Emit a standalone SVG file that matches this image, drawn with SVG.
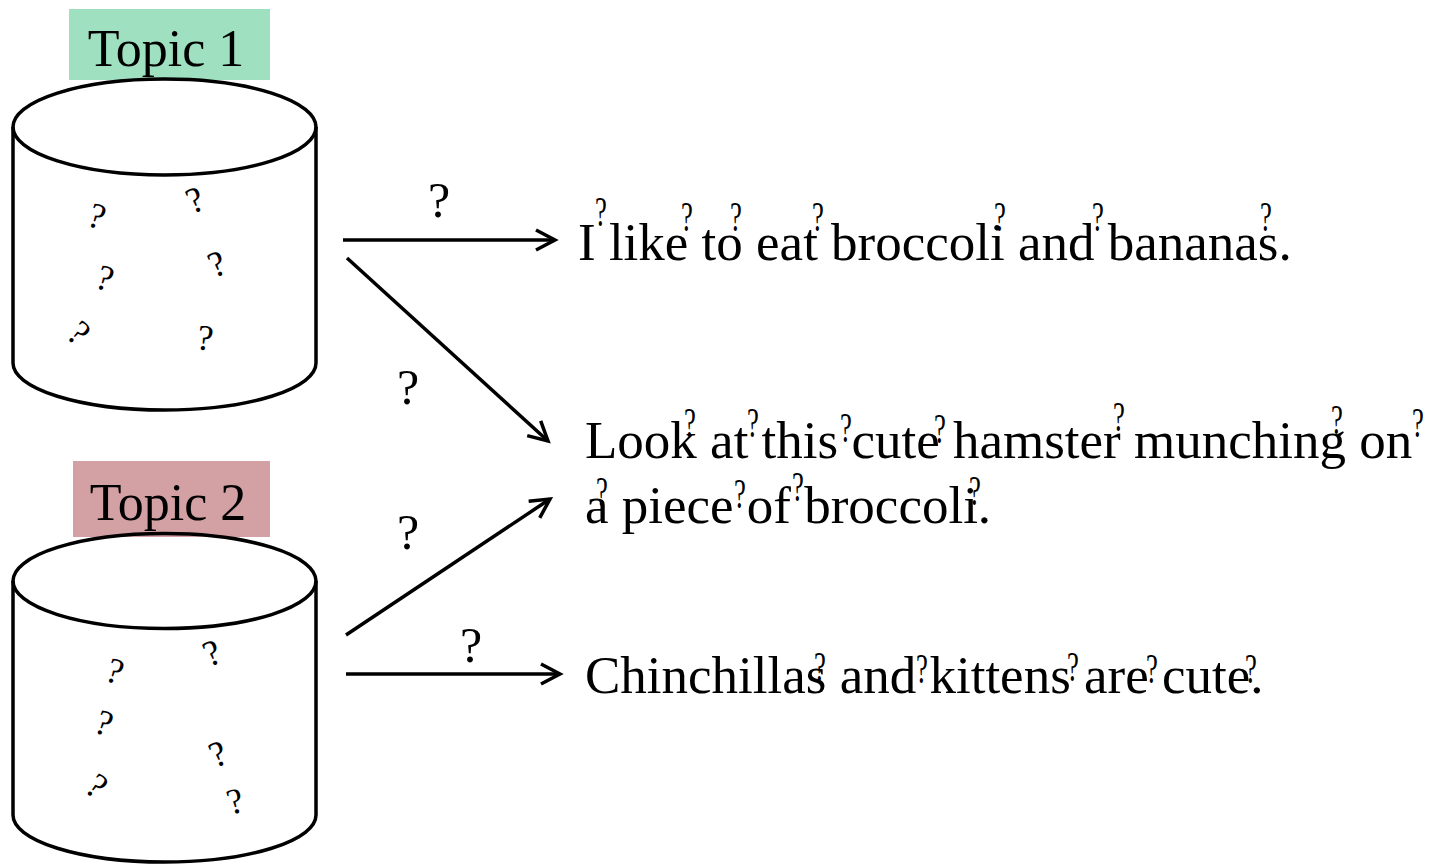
<svg xmlns="http://www.w3.org/2000/svg" width="1429" height="865" viewBox="0 0 1429 865">
  <defs>
    <style>
      .serif { font-family: "Liberation Serif", "Times New Roman", serif; fill: #000; }
      .label { font-size: 52px; text-anchor: middle; }
      .sent { font-size: 53px; }
      .edge-q { font-size: 50px; text-anchor: middle; }
      .word-q { font-size: 43px; text-anchor: middle; }
      .bag-q { font-size: 36px; text-anchor: middle; }
      .outline { fill: none; stroke: #000; stroke-width: 3.5; }
      .conn { fill: none; stroke: #000; stroke-width: 3.5; }
    </style>
    <marker id="chev" markerUnits="userSpaceOnUse" markerWidth="30" markerHeight="30" viewBox="-24 -15 30 30" refX="0" refY="0" orient="auto">
      <path d="M-19,-10 L0,0 L-19,10" fill="none" stroke="#000" stroke-width="3.5" stroke-linejoin="miter"/>
    </marker>
    <!-- small narrow question mark set above a word -->
    <g id="wq"><text class="serif word-q" transform="scale(0.62,1)" x="0" y="0">?</text></g>
  </defs>

  <rect width="1429" height="865" fill="#fff"/>

  <!-- Topic 1 bag -->
  <g id="topic1">
    <rect x="69" y="9" width="201" height="71" fill="#9ee0bf"/>
    <text class="serif label" x="166" y="66">Topic 1</text>
    <ellipse class="outline" cx="164.5" cy="127" rx="151.5" ry="48"/>
    <path class="outline" d="M13,127 L13,363 A151.5,47 0 0 0 316,363 L316,127"/>
    <g class="serif bag-q">
      <text x="97" y="228" transform="rotate(18 97 216)">?</text>
      <text x="195" y="212" transform="rotate(-22 195 200)">?</text>
      <text x="105" y="290" transform="rotate(18 105 278)">?</text>
      <text x="217" y="276" transform="rotate(-22 217 264)">?</text>
      <text x="79" y="345" transform="rotate(42 79 333)">?</text>
      <text x="205" y="350" transform="rotate(8 205 338)">?</text>
    </g>
  </g>

  <!-- Topic 2 bag -->
  <g id="topic2">
    <rect x="73" y="461" width="197" height="76" fill="#d3a0a3"/>
    <text class="serif label" x="168" y="520">Topic 2</text>
    <ellipse class="outline" cx="164.5" cy="581" rx="151.5" ry="47.5"/>
    <path class="outline" d="M13,581 L13,815 A151.5,47 0 0 0 316,815 L316,581"/>
    <g class="serif bag-q">
      <text x="115" y="683" transform="rotate(18 115 671)">?</text>
      <text x="212" y="665" transform="rotate(-22 212 653)">?</text>
      <text x="104" y="735" transform="rotate(20 104 723)">?</text>
      <text x="218" y="766" transform="rotate(-22 218 754)">?</text>
      <text x="97" y="798" transform="rotate(38 97 786)">?</text>
      <text x="235" y="813" transform="rotate(-15 235 801)">?</text>
    </g>
  </g>

  <!-- Connectors -->
  <g id="connectors">
    <line class="conn" x1="343" y1="240" x2="555" y2="240" marker-end="url(#chev)"/>
    <line class="conn" x1="347" y1="258" x2="548" y2="441" marker-end="url(#chev)"/>
    <line class="conn" x1="346" y1="635" x2="550" y2="499" marker-end="url(#chev)"/>
    <line class="conn" x1="346" y1="674" x2="560" y2="674" marker-end="url(#chev)"/>
    <text class="serif edge-q" x="439" y="217">?</text>
    <text class="serif edge-q" x="408" y="404">?</text>
    <text class="serif edge-q" x="408" y="549">?</text>
    <text class="serif edge-q" x="471" y="662">?</text>
  </g>

  <!-- Document 1 -->
  <g id="doc1">
    <text class="serif sent" x="578" y="260">I like to eat broccoli and bananas.</text>
    <use href="#wq" x="601" y="226"/>
    <use href="#wq" x="687" y="231"/>
    <use href="#wq" x="736" y="231"/>
    <use href="#wq" x="818" y="231"/>
    <use href="#wq" x="1000" y="231"/>
    <use href="#wq" x="1098" y="231"/>
    <use href="#wq" x="1266" y="231"/>
  </g>

  <!-- Document 2 -->
  <g id="doc2">
    <text class="serif sent" x="585" y="458">Look at this cute hamster munching on</text>
    <text class="serif sent" x="585" y="523">a piece of broccoli.</text>
    <use href="#wq" x="690" y="437"/>
    <use href="#wq" x="753" y="437"/>
    <use href="#wq" x="846" y="442"/>
    <use href="#wq" x="940" y="443"/>
    <use href="#wq" x="1119" y="431"/>
    <use href="#wq" x="1337" y="434"/>
    <use href="#wq" x="1418" y="437"/>
    <use href="#wq" x="602" y="506"/>
    <use href="#wq" x="740" y="508"/>
    <use href="#wq" x="798" y="501"/>
    <use href="#wq" x="975" y="505"/>
  </g>

  <!-- Document 3 -->
  <g id="doc3">
    <text class="serif sent" x="585" y="693">Chinchillas and kittens are cute.</text>
    <use href="#wq" x="820" y="681"/>
    <use href="#wq" x="922" y="683"/>
    <use href="#wq" x="1073" y="681"/>
    <use href="#wq" x="1152" y="683"/>
    <use href="#wq" x="1251" y="683"/>
  </g>
</svg>
